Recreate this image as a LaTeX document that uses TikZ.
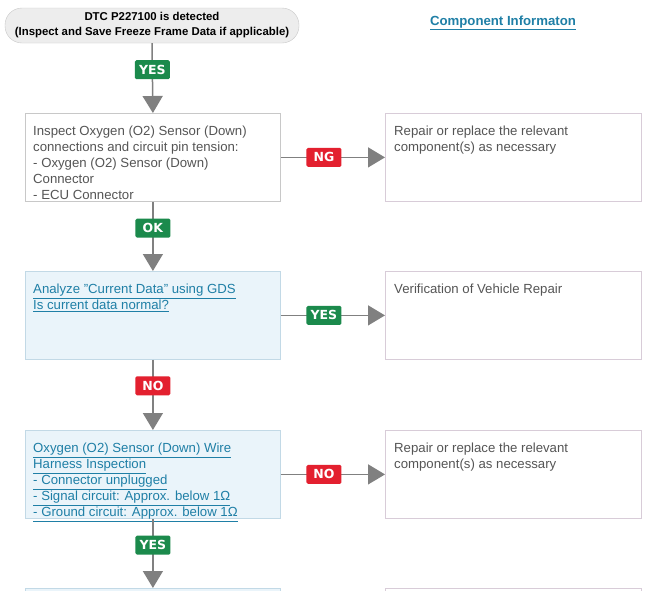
\documentclass[tikz,border=0pt]{standalone}
\usepackage{fontspec}
\setmainfont{Liberation Sans}
\newfontfamily\lblfont{DejaVu Sans}
\usetikzlibrary{arrows.meta}
\definecolor{linkc}{HTML}{1F7FA6}
\definecolor{txtc}{HTML}{555555}
\definecolor{okg}{HTML}{1B8A4C}
\definecolor{ngr}{HTML}{E3202F}
\definecolor{conc}{HTML}{808080}
\definecolor{boxb}{HTML}{C8C8C8}
\definecolor{blf}{HTML}{EAF4FA}
\definecolor{blb}{HTML}{C2D9E6}
\definecolor{pinkb}{HTML}{D8CCD8}
\definecolor{startf}{HTML}{EDEDED}
\newcommand{\lk}[1]{\underline{#1}}
\begin{document}
\begin{tikzpicture}[x=1pt,y=-1pt,
  box/.style={draw=boxb,line width=0.8pt,fill=white,rectangle,inner sep=0pt,minimum width=255pt,minimum height=88pt,anchor=north west},
  bluebox/.style={box,draw=blb,fill=blf},
  rbox/.style={box,draw=pinkb,minimum width=256pt},
  txt/.style={anchor=north west,inner sep=0pt,align=left,text=txtc,font=\fontsize{13.2}{16}\selectfont},
  lnk/.style={txt,text=linkc},
  conn/.style={draw=conc,line width=1.5pt,-{Triangle[length=17pt,width=20pt]}},
  tag/.style={rectangle,rounded corners=1.5pt,minimum width=35pt,minimum height=19pt,inner sep=0pt,text=white,font=\lblfont\fontsize{12.5}{12}\selectfont\bfseries},
  yes/.style={tag,fill=okg},
  no/.style={tag,fill=ngr}
]
\useasboundingbox (0,0) rectangle (645,590);
\fill[white] (0,0) rectangle (645,590);

% start
\node[draw=boxb,fill=startf,rounded corners=17pt,minimum width=294pt,minimum height=35pt,inner sep=0pt,align=center,font=\fontsize{11.4}{15}\selectfont\bfseries] (start) at (152,25.5) {DTC P227100 is detected\\(Inspect and Save Freeze Frame Data if applicable)};

\node[anchor=base,inner sep=0pt,text=linkc,font=\fontsize{13.2}{15}\selectfont\bfseries] (ci) at (503,25) {\lk{Component Informaton}};

% row 1
\node[box] (b1) at (25,113) {};
\node[rbox] (r1) at (385,113) {};
\node[txt] (t1) at (33,126) {Inspect Oxygen (O2) Sensor (Down)\\connections and circuit pin tension:\\- Oxygen (O2) Sensor (Down)\\Connector\\- ECU Connector};
\node[txt] (u1) at (394,126) {Repair or replace the relevant\\component(s) as necessary};

% row 2
\node[bluebox] (b2) at (25,271) {};
\node[rbox] (r2) at (385,271) {};
\node[lnk] (t2) at (33,284) {\lk{Analyze "Current Data" using GDS}\\\lk{Is current data normal?}};
\node[txt] (u2) at (394,284) {Verification of Vehicle Repair};

% row 3
\node[bluebox] (b3) at (25,430) {};
\node[rbox] (r3) at (385,430) {};
\node[lnk] (t3) at (33,443) {\lk{Oxygen (O2) Sensor (Down) Wire}\\\lk{Harness Inspection}\\\lk{- Connector unplugged}\\\lk{- Signal circuit: Approx. below 1Ω}\\\lk{- Ground circuit: Approx. below 1Ω}};
\node[txt] (u3) at (394,443) {Repair or replace the relevant\\component(s) as necessary};

% row 4 (cut off)
\node[bluebox] (b4) at (25,588) {};
\node[rbox] (r4) at (385,588) {};

% connectors
\draw[conn] (start.south) -- node[yes,pos=0.38] {YES} (b1.north);
\draw[conn] (b1.east) -- node[no,pos=0.414] {NG} (r1.west);
\draw[conn] (b1.south) -- node[yes,pos=0.38] {OK} (b2.north);
\draw[conn] (b2.east) -- node[yes,pos=0.414] {YES} (r2.west);
\draw[conn] (b2.south) -- node[no,pos=0.37] {NO} (b3.north);
\draw[conn] (b3.east) -- node[no,pos=0.414] {NO} (r3.west);
\draw[conn] (b3.south) -- node[yes,pos=0.38] {YES} (b4.north);
\end{tikzpicture}
\end{document}
